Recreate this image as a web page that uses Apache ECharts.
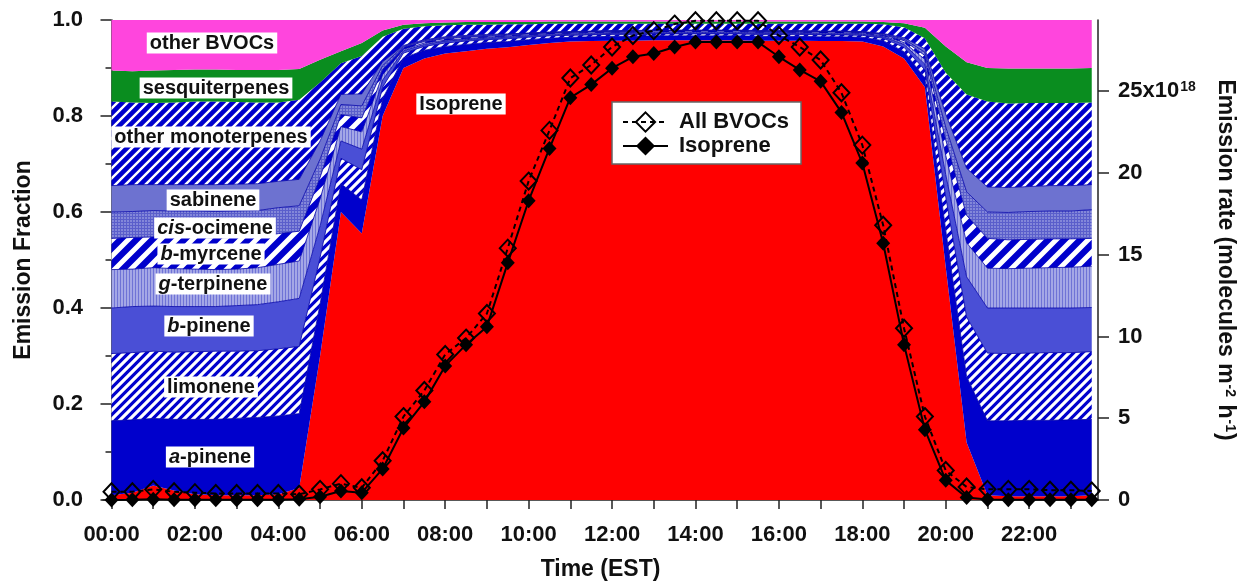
<!DOCTYPE html>
<html><head><meta charset="utf-8">
<script src="https://cdn.jsdelivr.net/npm/echarts@6/dist/echarts.min.js"></script>
<style>html,body{margin:0;padding:0;background:#fff}#c{width:1252px;height:588px}</style>
</head><body><div id="c"></div>
<script>
// ---- data ----
const times = [0,0.5,1,1.5,2,2.5,3,3.5,4,4.5,5,5.5,6,6.5,7,7.5,8,8.5,9,9.5,10,10.5,11,11.5,12,12.5,13,13.5,14,14.5,15,15.5,16,16.5,17,17.5,18,18.5,19,19.5,20,20.5,21,21.5,22,22.5,23,23.5];
const tickHours = [0,1,2,3,4,5,6,7,8,9,10,11,12,13,14,15,16,17,18,19,20,21,22,23];
const labelHours = [0,2,4,6,8,10,12,14,16,18,20,22];
const timeLabels = ['00:00','02:00','04:00','06:00','08:00','10:00','12:00','14:00','16:00','18:00','20:00','22:00'];
const rateTicks = [0,5,10,15,20,25];

// emission fractions (stacked, bottom to top)
const isopreneFrac = [.010,.015,.030,.020,.012,.010,.010,.010,.012,.025,.300,.600,.555,.800,.900,.920,.930,.935,.940,.943,.948,.952,.955,.956,.957,.957,.958,.958,.958,.958,.958,.957,.957,.957,.956,.956,.955,.945,.920,.860,.485,.120,.010,.008,.008,.008,.008,.010];
const aPinene = [.155,.152,.140,.148,.156,.158,.160,.162,.163,.155,.108,.059,.070,.036,.021,.017,.015,.014,.013,.012,.011,.010,.009,.009,.009,.009,.009,.009,.009,.009,.009,.009,.009,.009,.009,.009,.009,.012,.014,.019,.077,.137,.155,.157,.158,.158,.159,.158];
const limonene = [.140,.140,.140,.140,.141,.142,.140,.139,.140,.140,.097,.053,.063,.024,.010,.008,.007,.007,.006,.006,.005,.005,.004,.004,.004,.004,.004,.004,.004,.004,.004,.004,.004,.004,.004,.004,.004,.005,.009,.017,.069,.124,.141,.140,.140,.141,.140,.141];
const bPinene = [.095,.096,.094,.095,.094,.093,.095,.096,.098,.100,.066,.036,.043,.015,.005,.004,.004,.003,.003,.003,.003,.002,.002,.002,.002,.002,.002,.002,.002,.002,.002,.002,.002,.002,.002,.002,.002,.003,.006,.012,.047,.084,.094,.095,.094,.093,.093,.092];
const gTerpinene = [.080,.078,.080,.079,.078,.077,.076,.077,.078,.078,.056,.030,.036,.011,.003,.003,.002,.002,.002,.002,.002,.002,.002,.002,.002,.002,.002,.002,.002,.002,.002,.002,.002,.002,.002,.002,.002,.002,.004,.010,.040,.071,.083,.082,.083,.084,.085,.086];
const bMyrcene = [.065,.066,.064,.065,.066,.066,.066,.065,.064,.062,.045,.025,.029,.011,.004,.003,.003,.003,.002,.002,.002,.002,.002,.002,.002,.002,.002,.002,.002,.002,.002,.002,.002,.002,.002,.002,.002,.002,.004,.008,.032,.057,.062,.060,.060,.060,.059,.058];
const cisOcimene = [.055,.054,.055,.055,.055,.055,.055,.054,.054,.053,.038,.021,.025,.008,.002,.002,.002,.002,.002,.002,.001,.001,.001,.001,.001,.001,.001,.001,.001,.001,.001,.001,.001,.001,.001,.001,.001,.002,.003,.007,.027,.049,.055,.057,.058,.058,.058,.060];
const sabinene = [.055,.056,.054,.055,.055,.056,.056,.056,.055,.055,.038,.021,.025,.008,.002,.002,.002,.002,.002,.001,.001,.001,.001,.001,.001,.001,.001,.001,.001,.001,.001,.001,.001,.001,.001,.001,.001,.001,.003,.007,.027,.049,.052,.052,.052,.053,.053,.052];
const otherMonoterpenes = [.175,.171,.170,.171,.173,.173,.171,.169,.164,.166,.122,.065,.079,.052,.035,.028,.024,.022,.020,.020,.018,.017,.016,.015,.014,.014,.013,.013,.013,.013,.013,.014,.014,.014,.015,.015,.016,.019,.022,.022,.086,.154,.178,.175,.174,.172,.172,.171];
const sesquiterpenes = [.065,.065,.068,.068,.067,.067,.067,.068,.068,.064,.047,.025,.027,.013,.008,.006,.006,.006,.006,.005,.005,.005,.005,.005,.005,.005,.005,.005,.005,.005,.005,.005,.005,.005,.005,.005,.005,.005,.008,.022,.055,.067,.070,.073,.072,.072,.072,.072];
const otherBVOCs = [.105,.107,.105,.104,.103,.103,.104,.104,.104,.102,.083,.065,.048,.022,.010,.007,.005,.004,.004,.004,.004,.003,.003,.003,.003,.003,.003,.003,.003,.003,.003,.003,.003,.003,.003,.003,.003,.004,.007,.016,.055,.088,.100,.101,.101,.101,.101,.100];

// emission rates (x10^18 molecules m-2 h-1)
const allBVOCsRate = [0.5,0.5,0.65,0.5,0.45,0.4,0.4,0.4,0.4,0.35,0.65,1.0,0.75,2.4,5.1,6.7,8.9,9.9,11.4,15.4,19.5,22.6,25.8,26.6,27.7,28.4,28.7,29.1,29.3,29.3,29.3,29.3,28.4,27.7,26.9,24.9,21.7,16.8,10.5,5.1,1.8,0.8,0.65,0.65,0.65,0.6,0.6,0.55];
const isopreneRate = [0.0,0.02,0.05,0.02,0.02,0.02,0.02,0.02,0.02,0.05,0.2,0.55,0.45,1.9,4.4,6.0,8.2,9.5,10.6,14.5,18.3,21.5,24.6,25.4,26.4,27.1,27.3,27.7,28.0,28.0,28.0,28.0,27.1,26.3,25.6,23.7,20.6,15.7,9.5,4.3,1.2,0.15,0.03,0.02,0.02,0.02,0.02,0.02];

// ---- styling helpers ----
const F = "'Liberation Sans', Arial, Helvetica, sans-serif";
const BLUE = '#0000cc';
function stripes(bg, fg, p, w) {
  const c = document.createElement('canvas'); c.width = p; c.height = p;
  const g = c.getContext('2d');
  g.fillStyle = bg; g.fillRect(0, 0, p, p);
  g.strokeStyle = fg; g.lineWidth = w;
  g.beginPath();
  for (const k of [0, p, 2 * p]) { g.moveTo(-p, k + p); g.lineTo(2 * p, k - 2 * p); }
  g.stroke();
  return { image: c, repeat: 'repeat' };
}
function vlines(bg, fg, p) {
  const c = document.createElement('canvas'); c.width = p; c.height = 4;
  const g = c.getContext('2d');
  g.fillStyle = bg; g.fillRect(0, 0, p, 4);
  g.fillStyle = fg; g.fillRect(0, 0, 1, 4);
  return { image: c, repeat: 'repeat' };
}
function gridPattern(bg, fg, p) {
  const c = document.createElement('canvas'); c.width = p; c.height = p;
  const g = c.getContext('2d');
  g.fillStyle = bg; g.fillRect(0, 0, p, p);
  g.fillStyle = fg; g.fillRect(0, 0, 1, p); g.fillRect(0, 0, p, 1);
  return { image: c, repeat: 'repeat' };
}
// value stored in dimension 0 so that the stack is applied to the y values
function area(name, arr, color, border) {
  return {
    name, type: 'line', stack: 'frac', silent: true, z: 2,
    data: times.map((t, i) => [arr[i], t]),
    encode: { x: 1, y: 0 },
    symbol: 'none',
    lineStyle: { width: border ? 0.8 : 0, color: '#0000a8' },
    areaStyle: { color, opacity: 1 },
    emphasis: { disabled: true }
  };
}
const rich = {
  n: { fontSize: 20, fontWeight: 'bold', fontFamily: F, fill: '#111' },
  i: { fontSize: 20, fontWeight: 'bold', fontStyle: 'italic', fontFamily: F, fill: '#111' }
};
function lbl(x, y, text) {
  return {
    type: 'text', x, y, z: 100, silent: true,
    style: {
      text, rich, align: 'center', verticalAlign: 'middle',
      textAlign: 'center', textVerticalAlign: 'middle',
      backgroundColor: '#fff', padding: [1, 3, 0, 3]
    }
  };
}

const chart = echarts.init(document.getElementById('c'), null, { renderer: 'canvas' });
const axisCol = '#222';
chart.setOption({
  animation: false,
  backgroundColor: '#fff',
  grid: { left: 103, right: 154, top: 20, bottom: 88, containLabel: false, outerBoundsMode: 'none' },
  legend: {
    data: ['All BVOCs', 'Isoprene'], orient: 'vertical', left: 612, top: 102,
    itemWidth: 45, itemHeight: 24, itemGap: 2, padding: [9, 12, 7, 10],
    backgroundColor: '#fff', borderColor: '#666', borderWidth: 1.5, borderRadius: 0,
    selectedMode: false,
    textStyle: { fontSize: 22, fontWeight: 'bold', fontFamily: F, color: '#111', padding: [0, 0, 0, 6] }
  },
  xAxis: {
    type: 'value', min: -0.204, max: 23.65,
    axisLine: { show: true, onZero: false, lineStyle: { color: axisCol, width: 1.5 } },
    axisTick: { show: true, customValues: tickHours, length: 9, lineStyle: { color: axisCol, width: 1.5 } },
    axisLabel: {
      customValues: labelHours, formatter: v => timeLabels[labelHours.indexOf(v)],
      fontSize: 22, fontWeight: 'bold', fontFamily: F, color: '#111', margin: 24
    },
    splitLine: { show: false },
    name: 'Time (EST)', nameLocation: 'middle', nameGap: 58,
    nameTextStyle: { fontSize: 23, fontWeight: 'bold', fontFamily: F, color: '#111' }
  },
  yAxis: [{
    type: 'value', min: 0, max: 1, interval: 0.2, position: 'left',
    axisLine: { show: true, lineStyle: { color: axisCol, width: 1.5 } },
    axisTick: { show: true, length: 11, lineStyle: { color: axisCol, width: 1.5 } },
    minorTick: { show: true, splitNumber: 2, length: 6, lineStyle: { color: axisCol, width: 1.5 } },
    axisLabel: { formatter: v => v.toFixed(1), fontSize: 22, fontWeight: 'bold', fontFamily: F, color: '#111', margin: 20 },
    splitLine: { show: false },
    name: 'Emission Fraction', nameLocation: 'middle', nameGap: 68, nameRotate: 90,
    nameTextStyle: { fontSize: 23, fontWeight: 'bold', fontFamily: F, color: '#111' }
  }, {
    type: 'value', min: 0, max: 29.35, position: 'right',
    axisLine: { show: true, lineStyle: { color: axisCol, width: 1.5 } },
    axisTick: { show: true, customValues: rateTicks, length: 11, lineStyle: { color: axisCol, width: 1.5 } },
    axisLabel: {
      customValues: rateTicks,
      formatter: v => v === 25 ? '{b|25x10}{sup|18}' : '{b|' + v + '}',
      margin: 20,
      rich: {
        b: { fontSize: 22, fontWeight: 'bold', fontFamily: F, color: '#111', lineHeight: 22, verticalAlign: 'bottom' },
        sup: { fontSize: 14, fontWeight: 'bold', fontFamily: F, color: '#111', lineHeight: 15, verticalAlign: 'top', padding: [0, 0, 18, 1] }
      }
    },
    splitLine: { show: false },
    name: '{t|Emission rate (molecules m}{sup|-2}{t| h}{sup|-1}{t|)}',
    nameLocation: 'middle', nameGap: 114, nameRotate: -90,
    nameTextStyle: {
      fontSize: 23, fontWeight: 'bold', fontFamily: F, color: '#111',
      rich: {
        t: { fontSize: 23, fontWeight: 'bold', fontFamily: F, color: '#111', lineHeight: 23, verticalAlign: 'bottom' },
        sup: { fontSize: 14, fontWeight: 'bold', fontFamily: F, color: '#111', lineHeight: 15, verticalAlign: 'top', padding: [0, 1, 16, 1] }
      }
    }
  }],
  series: [
    area('Isoprene fraction', isopreneFrac, '#ff0000', false),
    area('a-pinene', aPinene, BLUE, true),
    area('limonene', limonene, stripes(BLUE, '#ffffff', 9, 3.2), true),
    area('b-pinene', bPinene, '#4a4fd6', true),
    area('g-terpinene', gTerpinene, vlines('#a4a7e6', '#6f73d6', 3), true),
    area('b-myrcene', bMyrcene, stripes(BLUE, '#ffffff', 16, 5), true),
    area('cis-ocimene', cisOcimene, gridPattern('#8387d9', '#5a5ecb', 3), true),
    area('sabinene', sabinene, '#6d72d0', true),
    area('other monoterpenes', otherMonoterpenes, stripes(BLUE, '#ffffff', 10, 2.4), false),
    area('sesquiterpenes', sesquiterpenes, '#0a8d1f', false),
    area('other BVOCs', otherBVOCs, '#ff45dd', false),
    {
      name: 'All BVOCs', type: 'line', yAxisIndex: 1, z: 10,
      data: times.map((t, i) => [t, allBVOCsRate[i]]),
      symbol: 'diamond', symbolSize: [16, 17],
      lineStyle: { color: '#000', width: 2, type: [5, 4] },
      itemStyle: { color: 'rgba(0,0,0,0)', borderColor: '#000', borderWidth: 2 },
      emphasis: { disabled: true }
    },
    {
      name: 'Isoprene', type: 'line', yAxisIndex: 1, z: 11,
      data: times.map((t, i) => [t, isopreneRate[i]]),
      symbol: 'diamond', symbolSize: [14, 15],
      lineStyle: { color: '#000', width: 2 },
      itemStyle: { color: '#000' },
      emphasis: { disabled: true }
    }
  ],
  graphic: [
    lbl(212, 43, '{n|other BVOCs}'),
    lbl(216, 88, '{n|sesquiterpenes}'),
    lbl(211, 137, '{n|other monoterpenes}'),
    lbl(213, 200, '{n|sabinene}'),
    lbl(215, 228, '{i|cis}{n|-ocimene}'),
    lbl(211, 254, '{i|b}{n|-myrcene}'),
    lbl(213, 284, '{i|g}{n|-terpinene}'),
    lbl(209, 326, '{i|b}{n|-pinene}'),
    lbl(211, 387, '{n|limonene}'),
    lbl(210, 457, '{i|a}{n|-pinene}'),
    lbl(461, 104, '{n|Isoprene}')
  ]
});
</script>
</body></html>
